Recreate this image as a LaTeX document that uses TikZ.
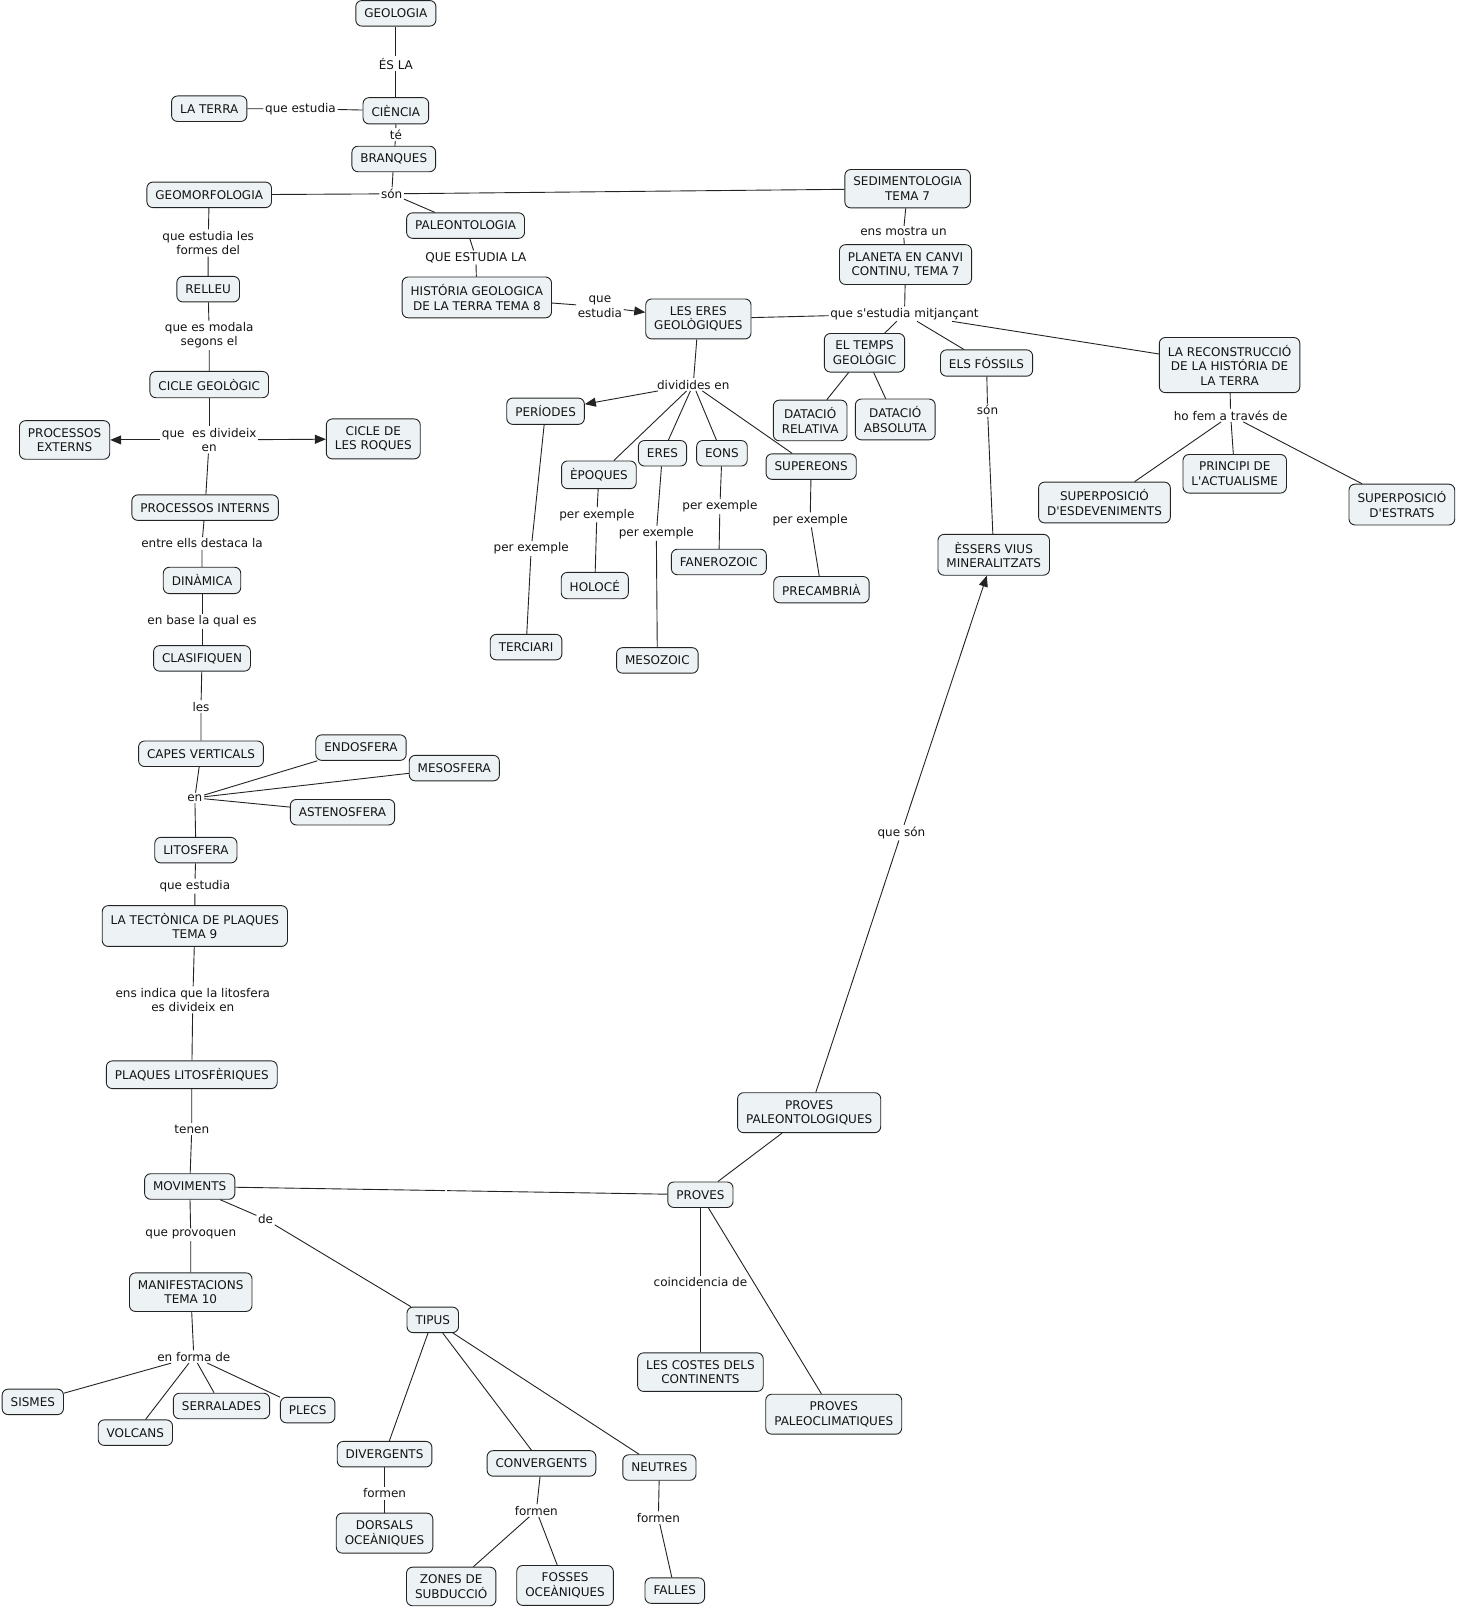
\documentclass[tikz,border=0pt]{standalone}
\usepackage{fontspec}
\setmainfont{DejaVu Sans}[Ligatures=TeXOff]
\usetikzlibrary{arrows.meta}
\definecolor{cmapfill}{RGB}{237,243,245}
\definecolor{cmapline}{RGB}{35,35,35}
\definecolor{cmaptext}{RGB}{20,20,20}
\tikzset{
  concept/.style={rectangle, draw=cmapline, fill=cmapfill, text=cmaptext,
    align=center, rounded corners=6pt, line width=0.9pt,
    inner xsep=8.5pt, inner ysep=7.5pt, minimum height=25.5pt,
    font=\fontsize{12}{14.5}\selectfont},
  linkphrase/.style={align=center, inner sep=1.5pt, text=cmaptext,
    font=\fontsize{12}{14.5}\selectfont},
  arrow/.style={-{Triangle[length=11pt,width=9pt]}, line width=0.9pt, color=cmapline},
  line/.style={line width=0.9pt, color=cmapline}
}
\begin{document}
\begin{tikzpicture}[x=1.0253pt, y=-1.0253pt]
    \useasboundingbox[fill=white] (0,0) rectangle (1424,1568);
    \node[concept] (geologia) at (386,13) {GEOLOGIA};
    \node[concept] (laterra) at (204,106) {LA TERRA};
    \node[concept] (ciencia) at (386,108) {CIÈNCIA};
    \node[concept] (branques) at (384,155) {BRANQUES};
    \node[concept] (geomorf) at (204,190) {GEOMORFOLOGIA};
    \node[concept] (paleo) at (454,220) {PALEONTOLOGIA};
    \node[concept] (sedim) at (885,184) {SEDIMENTOLOGIA\\TEMA 7};
    \node[concept] (planeta) at (883,258) {PLANETA EN CANVI\\CONTINU, TEMA 7};
    \node[concept] (historia) at (465,290) {HISTÓRIA GEOLOGICA\\DE LA TERRA TEMA 8};
    \node[concept] (leseres) at (681,311) {LES ERES\\GEOLÒGIQUES};
    \node[concept] (relleu) at (203,282) {RELLEU};
    \node[concept] (cicle) at (204,375) {CICLE GEOLÒGIC};
    \node[concept] (procext) at (63,429) {PROCESSOS\\EXTERNS};
    \node[concept] (roques) at (364,428) {CICLE DE\\LES ROQUES};
    \node[concept] (procint) at (200,495) {PROCESSOS INTERNS};
    \node[concept] (dinamica) at (197,566) {DINÀMICA};
    \node[concept] (clasif) at (197,642) {CLASIFIQUEN};
    \node[concept] (capes) at (196,735) {CAPES VERTICALS};
    \node[concept] (endosf) at (352,729) {ENDOSFERA};
    \node[concept] (mesosf) at (443,749) {MESOSFERA};
    \node[concept] (astenosf) at (334,792) {ASTENOSFERA};
    \node[concept] (litosf) at (191,829) {LITOSFERA};
    \node[concept] (tectonica) at (190,903) {LA TECTÒNICA DE PLAQUES\\TEMA 9};
    \node[concept] (plaques) at (187,1048) {PLAQUES LITOSFÈRIQUES};
    \node[concept] (moviments) at (185,1157) {MOVIMENTS};
    \node[concept] (manifest) at (186,1260) {MANIFESTACIONS\\TEMA 10};
    \node[concept] (sismes) at (32,1367) {SISMES};
    \node[concept] (volcans) at (132,1397) {VOLCANS};
    \node[concept] (serralades) at (216,1371) {SERRALADES};
    \node[concept] (plecs) at (300,1375) {PLECS};
    \node[concept] (tipus) at (422,1287) {TIPUS};
    \node[concept] (diverg) at (375,1418) {DIVERGENTS};
    \node[concept] (converg) at (528,1427) {CONVERGENTS};
    \node[concept] (neutres) at (643,1431) {NEUTRES};
    \node[concept] (dorsals) at (375,1495) {DORSALS\\OCEÀNIQUES};
    \node[concept] (zones) at (440,1547) {ZONES DE\\SUBDUCCIÓ};
    \node[concept] (fosses) at (551,1546) {FOSSES\\OCEÀNIQUES};
    \node[concept] (falles) at (658,1551) {FALLES};
    \node[concept] (proves) at (683,1165) {PROVES};
    \node[concept] (provespal) at (789,1085) {PROVES\\PALEONTOLOGIQUES};
    \node[concept] (costes) at (683,1338) {LES COSTES DELS\\CONTINENTS};
    \node[concept] (provesclim) at (813,1379) {PROVES\\PALEOCLIMATIQUES};
    \node[concept] (periodes) at (532,401) {PERÍODES};
    \node[concept] (epoques) at (584,463) {ÈPOQUES};
    \node[concept] (eres) at (646,442) {ERES};
    \node[concept] (eons) at (704,442) {EONS};
    \node[concept] (supereons) at (791,455) {SUPEREONS};
    \node[concept] (terciari) at (513,631) {TERCIARI};
    \node[concept] (holoce) at (580,571) {HOLOCÉ};
    \node[concept] (mesozoic) at (641,644) {MESOZOIC};
    \node[concept] (fanerozoic) at (701,548) {FANEROZOIC};
    \node[concept] (precambria) at (801,575) {PRECAMBRIÀ};
    \node[concept] (temps) at (843,344) {EL TEMPS\\GEOLÒGIC};
    \node[concept] (datrel) at (790,410) {DATACIÓ\\RELATIVA};
    \node[concept] (databs) at (873,409) {DATACIÓ\\ABSOLUTA};
    \node[concept] (fossils) at (962,354) {ELS FÓSSILS};
    \node[concept] (reconstr) at (1199,356) {LA RECONSTRUCCIÓ\\DE LA HISTÓRIA DE\\LA TERRA};
    \node[concept] (superesd) at (1077,490) {SUPERPOSICIÓ\\D'ESDEVENIMENTS};
    \node[concept] (principi) at (1204,462) {PRINCIPI DE\\L'ACTUALISME};
    \node[concept] (superestr) at (1367,492) {SUPERPOSICIÓ\\D'ESTRATS};
    \node[concept] (essers) at (969,541) {ÈSSERS VIUS\\MINERALITZATS};

    \node[linkphrase] (esla) at (386,62) {ÉS LA};
    \node[linkphrase] (qestudia) at (293,106) {que estudia};
    \node[linkphrase] (te) at (386,131) {té};
    \node[linkphrase] (son) at (382,189) {són};
    \node[linkphrase] (qestudiala) at (464,251) {QUE ESTUDIA LA};
    \node[linkphrase] (qestudiaeres) at (585,299) {que\\estudia};
    \node[linkphrase] (mostra) at (881,226) {ens mostra un};
    \node[linkphrase] (mitjancant) at (882,306) {que s'estudia mitjançant};
    \node[linkphrase] (formesdel) at (203,237) {que estudia les\\formes del};
    \node[linkphrase] (modala) at (204,327) {que es modala\\segons el};
    \node[linkphrase] (divideix) at (204,429) {que\ \ es divideix\\en};
    \node[linkphrase] (destaca) at (197,530) {entre ells destaca la};
    \node[linkphrase] (base) at (197,606) {en base la qual es};
    \node[linkphrase] (les) at (196,689) {les};
    \node[linkphrase] (en) at (190,778) {en};
    \node[linkphrase] (qestudialit) at (190,864) {que estudia};
    \node[linkphrase] (indica) at (188,975) {ens indica que la litosfera\\es divideix en};
    \node[linkphrase] (tenen) at (187,1101) {tenen};
    \node[linkphrase, inner sep=0.8pt] (buit) at (435,1161) {};
    \node[linkphrase] (provoquen) at (186,1204) {que provoquen};
    \node[linkphrase] (de) at (259,1189) {de};
    \node[linkphrase] (formade) at (189,1323) {en forma de};
    \node[linkphrase] (formendiv) at (375,1456) {formen};
    \node[linkphrase] (formenconv) at (523,1473) {formen};
    \node[linkphrase] (formenneu) at (642,1480) {formen};
    \node[linkphrase] (coincid) at (683,1250) {coincidencia de};
    \node[linkphrase] (queson) at (879,812) {que són};
    \node[linkphrase] (sonfos) at (963,400) {són};
    \node[linkphrase] (traves) at (1200,405) {ho fem a través de};
    \node[linkphrase] (dividides) at (676,375) {dividides en};
    \node[linkphrase] (exper) at (518,535) {per exemple};
    \node[linkphrase] (exepo) at (582,502) {per exemple};
    \node[linkphrase] (exeres) at (640,520) {per exemple};
    \node[linkphrase] (exeons) at (702,494) {per exemple};
    \node[linkphrase] (exsup) at (790,507) {per exemple};

    \draw[line] (geologia) -- (esla) -- (ciencia);
    \draw[line] (ciencia) -- (qestudia) -- (laterra);
    \draw[line] (ciencia) -- (te) -- (branques);
    \draw[line] (branques) -- (son);
    \draw[line] (son) -- (geomorf);
    \draw[line] (son) -- (paleo);
    \draw[line] (son) -- (sedim);
    \draw[line] (paleo) -- (qestudiala) -- (historia);
    \draw[line] (historia) -- (qestudiaeres);
    \draw[arrow] (qestudiaeres) -- (leseres);
    \draw[line] (sedim) -- (mostra) -- (planeta);
    \draw[line] (planeta) -- (mitjancant);
    \draw[line] (leseres) -- (mitjancant);
    \draw[line] (mitjancant) -- (temps);
    \draw[line] (mitjancant) -- (fossils);
    \draw[line] (mitjancant) -- (reconstr);
    \draw[line] (temps) -- (datrel);
    \draw[line] (temps) -- (databs);
    \draw[line] (fossils) -- (sonfos) -- (essers);
    \draw[line] (reconstr) -- (traves);
    \draw[line] (traves) -- (superesd);
    \draw[line] (traves) -- (principi);
    \draw[line] (traves) -- (superestr);
    \draw[line] (leseres) -- (dividides);
    \draw[arrow] (dividides) -- (periodes);
    \draw[line] (dividides) -- (epoques);
    \draw[line] (dividides) -- (eres);
    \draw[line] (dividides) -- (eons);
    \draw[line] (dividides) -- (supereons);
    \draw[line] (periodes) -- (exper) -- (terciari);
    \draw[line] (epoques) -- (exepo) -- (holoce);
    \draw[line] (eres) -- (exeres) -- (mesozoic);
    \draw[line] (eons) -- (exeons) -- (fanerozoic);
    \draw[line] (supereons) -- (exsup) -- (precambria);
    \draw[line] (geomorf) -- (formesdel) -- (relleu);
    \draw[line] (relleu) -- (modala) -- (cicle);
    \draw[line] (cicle) -- (divideix);
    \draw[arrow] (divideix) -- (procext);
    \draw[arrow] (divideix) -- (roques);
    \draw[line] (divideix) -- (procint);
    \draw[line] (procint) -- (destaca) -- (dinamica);
    \draw[line] (dinamica) -- (base) -- (clasif);
    \draw[line] (clasif) -- (les) -- (capes);
    \draw[line] (capes) -- (en);
    \draw[line] (en) -- (endosf);
    \draw[line] (en) -- (mesosf);
    \draw[line] (en) -- (astenosf);
    \draw[line] (en) -- (litosf);
    \draw[line] (litosf) -- (qestudialit) -- (tectonica);
    \draw[line] (tectonica) -- (indica) -- (plaques);
    \draw[line] (plaques) -- (tenen) -- (moviments);
    \draw[line] (moviments) -- (buit) -- (proves);
    \draw[line] (moviments) -- (provoquen) -- (manifest);
    \draw[line] (moviments) -- (de) -- (tipus);
    \draw[line] (manifest) -- (formade);
    \draw[line] (formade) -- (sismes);
    \draw[line] (formade) -- (volcans);
    \draw[line] (formade) -- (serralades);
    \draw[line] (formade) -- (plecs);
    \draw[line] (tipus) -- (diverg);
    \draw[line] (tipus) -- (converg);
    \draw[line] (tipus) -- (neutres);
    \draw[line] (diverg) -- (formendiv) -- (dorsals);
    \draw[line] (converg) -- (formenconv);
    \draw[line] (formenconv) -- (zones);
    \draw[line] (formenconv) -- (fosses);
    \draw[line] (neutres) -- (formenneu) -- (falles);
    \draw[line] (provespal) -- (proves);
    \draw[line] (proves) -- (coincid) -- (costes);
    \draw[line] (proves) -- (provesclim);
    \draw[line] (provespal) -- (queson);
    \draw[arrow] (queson) -- (essers);
\end{tikzpicture}
\end{document}
